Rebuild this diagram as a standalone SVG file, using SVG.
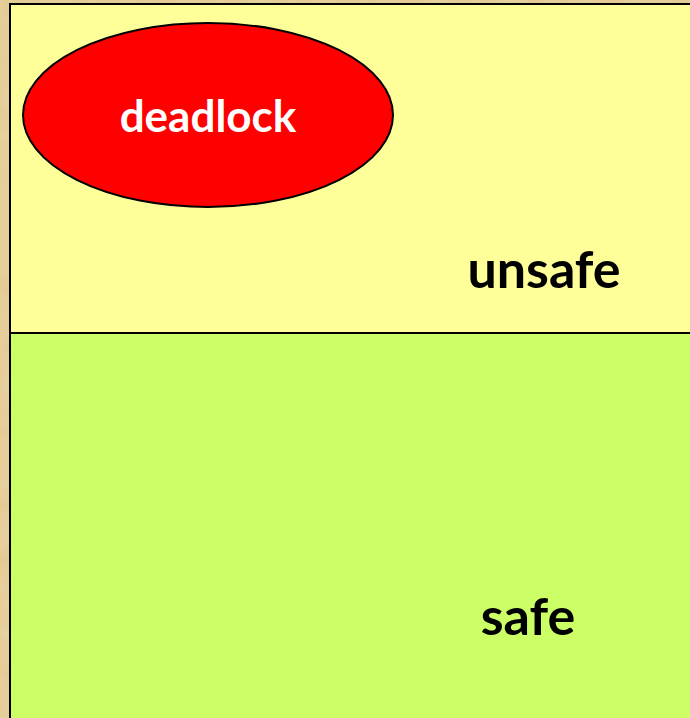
<svg xmlns="http://www.w3.org/2000/svg" width="690" height="718" viewBox="0 0 690 718">
  <defs>
    <style>
      .region { stroke: #000; stroke-width: 2; }
      .label { font-family: Lato, "Open Sans", "Liberation Sans", sans-serif; font-weight: bold; }
    </style>
    <filter id="paper" x="0" y="0" width="100%" height="100%">
      <feTurbulence type="fractalNoise" baseFrequency="0.04" numOctaves="3" seed="4" result="n"/>
      <feColorMatrix in="n" type="matrix" values="0 0 0 0 0.86  0 0 0 0 0.76  0 0 0 0 0.54  0 0 0 0.35 0" result="c"/>
      <feComposite in="c" in2="SourceGraphic" operator="over"/>
    </filter>
  </defs>

  <!-- parchment backdrop -->
  <rect x="0" y="0" width="690" height="718" fill="#e3c98f" filter="url(#paper)"/>

  <!-- unsafe region -->
  <g id="unsafe">
    <rect class="region" x="10" y="4" width="700" height="329" fill="#ffff99"/>
    <text class="label" x="544" y="288" font-size="52" text-anchor="middle" fill="#000">unsafe</text>
  </g>

  <!-- safe region -->
  <g id="safe">
    <rect class="region" x="10" y="333" width="700" height="400" fill="#ccff66"/>
    <text class="label" x="528" y="635" font-size="52" text-anchor="middle" fill="#000">safe</text>
  </g>

  <!-- deadlock subset inside unsafe -->
  <g id="deadlock">
    <ellipse class="region" cx="208" cy="115" rx="185" ry="92" fill="#ff0000"/>
    <text class="label" x="208" y="132" font-size="44" text-anchor="middle" fill="#fff">deadlock</text>
  </g>

  <g id="connectors"/>
</svg>
